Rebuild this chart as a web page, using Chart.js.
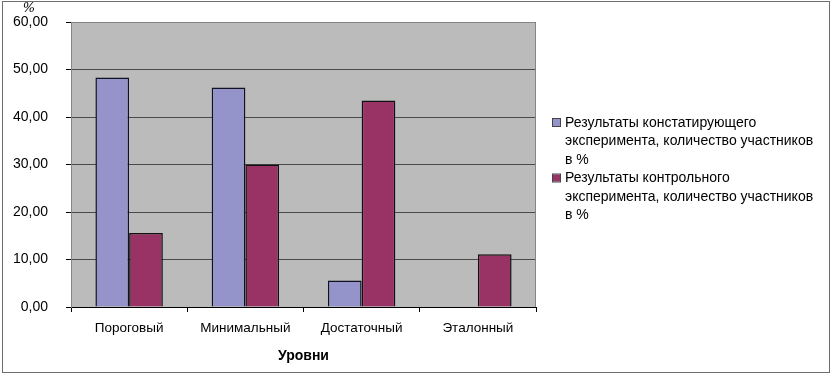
<!DOCTYPE html>
<html>
<head>
<meta charset="utf-8">
<script src="https://cdn.jsdelivr.net/npm/chart.js@4.4.0/dist/chart.umd.min.js"></script>
<style>
  html, body { margin: 0; padding: 0; background: #fff; }
  #wrap { width: 832px; height: 376px; position: relative; }
</style>
</head>
<body>
<div id="wrap"><canvas id="grafica"></canvas></div>
<script>
// Datos de la gráfica
const categorias = ["Пороговый", "Минимальный", "Достаточный", "Эталонный"];
const serieConstat = [48.3, 46.2, 5.6, 0];
const serieControl = [15.6, 30.0, 43.5, 11.1];
const etiquetasSeries = [
    ["Результаты констатирующего", "эксперимента, количество участников", "в %"],
    ["Результаты контрольного", "эксперимента, количество участников", "в %"]
];
const tituloX = "Уровни";
const tituloY = "%";

const fuente = "'Liberation Sans', Arial, sans-serif";

// Fondo gris, marco, símbolo % y leyenda de varias líneas
const fondoPlugin = {
    id: "fondo",
    beforeDraw(chart) {
        const { ctx, chartArea: a } = chart;
        ctx.save();
        ctx.fillStyle = "#bbbbbb";
        ctx.fillRect(a.left, a.top, a.right - a.left, a.bottom - a.top);
        ctx.restore();
    },
    afterDraw(chart) {
        const { ctx, chartArea: a } = chart;
        ctx.save();
        // borde del área
        ctx.strokeStyle = "#858585";
        ctx.lineWidth = 1;
        ctx.beginPath();
        ctx.moveTo(a.left + 0.5, a.bottom);
        ctx.lineTo(a.left + 0.5, a.top + 0.5);
        ctx.lineTo(a.right - 0.5, a.top + 0.5);
        ctx.lineTo(a.right - 0.5, a.bottom);
        ctx.stroke();
        // marco exterior
        ctx.strokeStyle = "#6e6e6e";
        ctx.strokeRect(2.5, 1.5, 827, 371);
        // símbolo %
        ctx.fillStyle = "#000";
        ctx.font = "italic 13px 'DejaVu Serif'";
        ctx.textAlign = "center";
        ctx.textBaseline = "middle";
        ctx.fillText(tituloY, 29, 9);
        // leyenda
        ctx.textAlign = "left";
        ctx.font = "14px " + fuente;
        const alto = 18.5;
        let y = 123;
        chart.data.datasets.forEach(ds => {
            ctx.fillStyle = ds.backgroundColor;
            ctx.fillRect(553, y - 4, 7, 7);
            ctx.strokeStyle = "#444";
            ctx.strokeRect(552.5, y - 4.5, 8, 8);
            ctx.fillStyle = "#000";
            ds.label.forEach((linea, i) => {
                ctx.fillText(linea, 565, y + i * alto);
            });
            y += ds.label.length * alto;
        });
        ctx.restore();
    }
};

const ctx = document.getElementById("grafica").getContext("2d");
const chart = new Chart(ctx, {
    type: "bar",
    data: {
        labels: categorias,
        datasets: [
            {
                label: etiquetasSeries[0],
                data: serieConstat,
                backgroundColor: "#9494cb",
                borderColor: "#111122",
                borderWidth: 1.5
            },
            {
                label: etiquetasSeries[1],
                data: serieControl,
                backgroundColor: "#993366",
                borderColor: "#111111",
                borderWidth: 1.5
            }
        ]
    },
    options: {
        responsive: true,
        maintainAspectRatio: false,
        animation: false,
        layout: { padding: { top: 22, left: 0, right: 296, bottom: 11 } },
        datasets: {
            bar: { categoryPercentage: 0.58, barPercentage: 1 }
        },
        plugins: {
            tooltip: { enabled: false },
            legend: { display: false }
        },
        scales: {
            x: {
                grid: { display: true, drawOnChartArea: false, offset: true, color: "#000", tickLength: 5 },
                border: { color: "#000" },
                ticks: { color: "#000", padding: 8, font: { family: fuente, size: 13.5 } },
                title: {
                    display: true,
                    text: tituloX,
                    color: "#000",
                    padding: { top: 4, bottom: 0 },
                    font: { family: fuente, size: 14, weight: "bold" }
                }
            },
            y: {
                min: 0,
                max: 60,
                afterFit(scale) {
                    scale.width = 71;
                    // el padding de las etiquetas no debe empujar el área hacia abajo
                    scale.paddingTop = 0;
                    scale.paddingBottom = 0;
                },
                grid: { color: "#4a4a4a", tickLength: 5, tickColor: "#000" },
                border: { color: "#858585" },
                ticks: {
                    stepSize: 10,
                    color: "#000",
                    padding: 18,
                    font: { family: fuente, size: 14 },
                    callback: v => v.toFixed(2).replace(".", ",")
                }
            }
        }
    },
    plugins: [fondoPlugin]
});
</script>
</body>
</html>
